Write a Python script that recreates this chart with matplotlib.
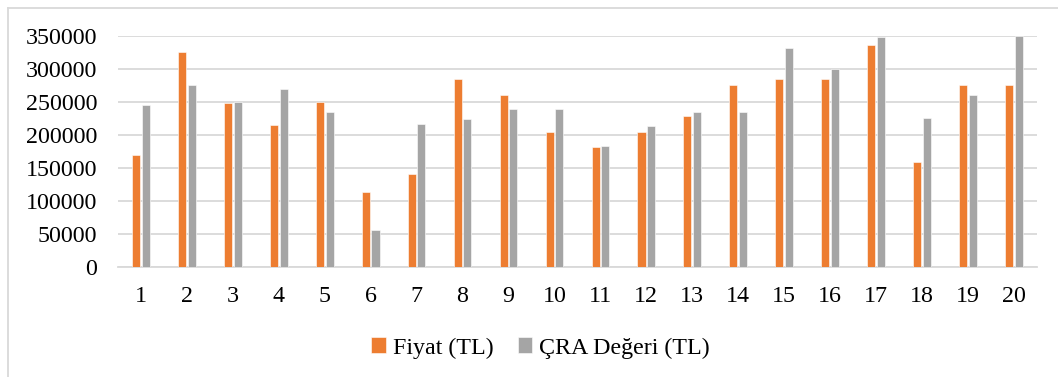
import matplotlib
matplotlib.use("Agg")
import matplotlib.pyplot as plt
from matplotlib.lines import Line2D
import numpy as np

plt.rcParams['font.family'] = ['Liberation Serif', 'DejaVu Serif']

# veriler
kategoriler = [str(i) for i in range(1, 21)]
fiyat = [169000, 325000, 249000, 215000, 250000, 114000, 140000, 285000, 261000, 204000,
         182000, 204000, 228000, 275000, 285000, 285000, 337000, 159000, 275000, 275000]
cra_degeri = [245000, 275000, 250000, 270000, 235000, 55000, 217000, 224000, 239000, 240000,
              183000, 214000, 235000, 235000, 332000, 300000, 348000, 225000, 260000, 350000]

turuncu = "#ED7D31"
gri = "#A5A5A5"
izgara = "#D9D9D9"

fig = plt.figure(figsize=(10.58, 3.77), dpi=100)
ax = fig.add_axes([0.1115, 0.2926, 0.8685, 0.6119])

x = np.arange(len(kategoriler))
w = 0.175
b1 = ax.bar(x - 0.105, fiyat, w, color=turuncu, edgecolor="white", linewidth=0.4,
            label="Fiyat (TL)", zorder=3)
b2 = ax.bar(x + 0.105, cra_degeri, w, color=gri, edgecolor="white", linewidth=0.4,
            label="ÇRA Değeri (TL)", zorder=3)

ax.set_xlim(-0.5, len(kategoriler) - 0.5)
ax.set_ylim(0, 350000)
ax.set_yticks(range(0, 350001, 50000))
ax.set_yticklabels([str(v) for v in range(0, 350001, 50000)])
ax.set_xticks(x)
ax.set_xticklabels(kategoriler)
ax.tick_params(axis="both", length=0, labelsize=17.3, colors="#000000")
ax.tick_params(axis="x", pad=14)
ax.tick_params(axis="y", pad=15)

ax.grid(axis="y", color=izgara, linewidth=1.3, zorder=0)
for s in ["top", "right", "left"]:
    ax.spines[s].set_visible(False)
ax.spines["bottom"].set_color(izgara)
ax.spines["bottom"].set_linewidth(1.3)

leg = fig.legend(handles=[b1, b2], loc="center", bbox_to_anchor=(0.511, 0.077),
                 ncol=2, frameon=False, fontsize=17.3, handlelength=0.6, handleheight=0.6,
                 handletextpad=0.3, columnspacing=1.0)

# grafik çerçevesi (sol ve üst kenar)
fig.add_artist(Line2D([8 / 1058, 8 / 1058], [0, 1 - 7.5 / 377], transform=fig.transFigure,
                      color=izgara, linewidth=1.3))
fig.add_artist(Line2D([8 / 1058, 1], [1 - 7.5 / 377, 1 - 7.5 / 377], transform=fig.transFigure,
                      color=izgara, linewidth=1.3))

fig.savefig("out.png", dpi=100)
